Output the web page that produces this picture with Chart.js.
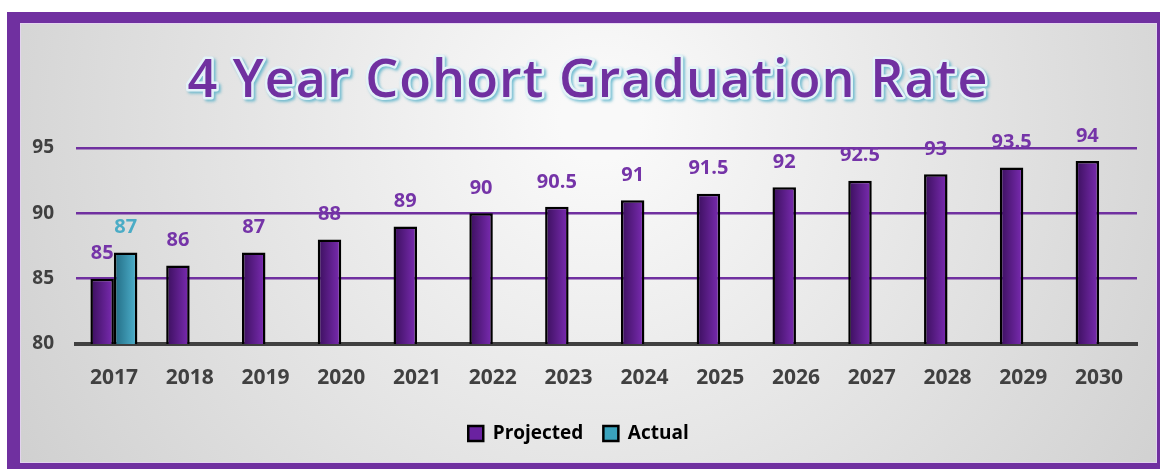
<!DOCTYPE html>
<html>
<head>
<meta charset="utf-8">
<script src="https://cdn.jsdelivr.net/npm/chart.js@4/dist/chart.umd.min.js"></script>
<style>
  html, body { margin: 0; padding: 0; background: #fff; }
  #wrap { width: 1160px; height: 469px; }
</style>
</head>
<body>
<div id="wrap"><canvas id="c" width="1160" height="469"></canvas></div>
<script>
const years = ['2017', '2018', '2019', '2020', '2021', '2022', '2023', '2024', '2025', '2026', '2027', '2028', '2029', '2030'];
const projected = [85, 86, 87, 88, 89, 90, 90.5, 91, 91.5, 92, 92.5, 93, 93.5, 94];
const actual = [87, null, null, null, null, null, null, null, null, null, null, null, null, null];
const yTicks = [80, 85, 90, 95];

const PURPLE = '#7030a0';
const TEAL = '#4bacc6';
const INK = '#404040';
const CAT_PCT = 0.62;

// horizontal shading inside each bar, dark on the left
function barFill(dark, light) {
  return (c) => {
    const chart = c.chart;
    const x = chart.scales.x;
    if (!x || !chart.chartArea) return light;
    const w = (x.width / years.length) * CAT_PCT / 2;
    const mid = x.getPixelForValue(c.dataIndex);
    const left = c.datasetIndex === 0 ? mid - w : mid;
    const g = chart.ctx.createLinearGradient(left, 0, left + w, 0);
    g.addColorStop(0, dark);
    g.addColorStop(1, light);
    return g;
  };
}

const frame = {
  id: 'frame',
  beforeDraw(chart) {
    const { ctx, width, height } = chart;
    ctx.save();
    ctx.fillStyle = '#ffffff';
    ctx.fillRect(0, 0, width, height);
    ctx.fillStyle = '#7030a0';
    ctx.fillRect(7, 12, width - 7, height - 12);
    const g = ctx.createRadialGradient(600, 120, 40, 600, 120, 720);
    g.addColorStop(0, '#f9f9f9');
    g.addColorStop(1, '#cdcdcd');
    ctx.fillStyle = g;
    ctx.fillRect(20, 23, 1137, 440);
    ctx.strokeStyle = 'rgba(230,210,245,0.8)';
    ctx.lineWidth = 1;
    ctx.strokeRect(20.5, 23.5, 1136, 439);
    ctx.restore();
  }
};

const heading = {
  id: 'heading',
  afterDraw(chart) {
    const { ctx } = chart;
    const text = '4 Year Cohort Graduation Rate';
    ctx.save();
    ctx.font = '600 52px "Open Sans"';
    const w = ctx.measureText(text).width;
    if (w < 800) ctx.letterSpacing = ((800 - w) / (text.length - 1)).toFixed(2) + 'px';
    ctx.textAlign = 'center';
    ctx.textBaseline = 'alphabetic';
    ctx.lineJoin = 'round';
    ctx.shadowColor = 'rgba(75,172,198,0.75)';
    ctx.shadowOffsetX = 2;
    ctx.shadowOffsetY = 2;
    ctx.shadowBlur = 3;
    ctx.strokeStyle = '#e4f2f8';
    ctx.lineWidth = 5;
    ctx.strokeText(text, 588, 97);
    ctx.shadowColor = 'transparent';
    ctx.fillStyle = '#7030a0';
    ctx.fillText(text, 588, 97);
    ctx.restore();
  }
};

const valueLabels = {
  id: 'valueLabels',
  afterDatasetsDraw(chart) {
    const { ctx } = chart;
    ctx.save();
    ctx.font = 'bold 20px "Open Sans"';
    ctx.textAlign = 'center';
    ctx.textBaseline = 'middle';
    chart.data.datasets.forEach((ds, i) => {
      const meta = chart.getDatasetMeta(i);
      ctx.fillStyle = i === 0 ? '#7534a8' : TEAL;
      meta.data.forEach((el, j) => {
        const v = ds.data[j];
        if (v == null) return;
        ctx.fillText(String(v), el.x, el.y - 25);
      });
    });
    ctx.restore();
  }
};

new Chart(document.getElementById('c'), {
  type: 'bar',
  data: {
    labels: years,
    datasets: [
      {
        label: 'Projected',
        data: projected,
        backgroundColor: barFill('#3a0f5c', '#7c2cb4'),
        borderColor: '#000000',
        borderWidth: 2.5,
        categoryPercentage: CAT_PCT,
        barPercentage: 1
      },
      {
        label: 'Actual',
        data: actual,
        backgroundColor: barFill('#216a82', '#4fb3cf'),
        borderColor: '#000000',
        borderWidth: 2.5,
        categoryPercentage: CAT_PCT,
        barPercentage: 1
      }
    ]
  },
  options: {
    responsive: false,
    animation: false,
    layout: { padding: { left: 20, right: 23, top: 148, bottom: 16 } },
    scales: {
      x: {
        grid: { display: false },
        border: { display: true, color: INK, width: 4 },
        ticks: { color: INK, font: { family: 'Open Sans', size: 21, weight: 'bold' }, padding: 13 },
        afterFit: (s) => { s.height = 60; }
      },
      y: {
        min: 80,
        max: 95,
        afterBuildTicks: (s) => { s.ticks = yTicks.map(v => ({ value: v })); },
        grid: {
          color: (c) => c.tick && c.tick.value === 80 ? 'rgba(0,0,0,0)' : PURPLE,
          lineWidth: 2.5,
          drawTicks: false
        },
        border: { display: false },
        ticks: { color: INK, font: { family: 'Open Sans', size: 19, weight: 'bold' }, padding: 22 },
        afterFit: (s) => { s.width = 56; }
      }
    },
    plugins: {
      title: { display: false },
      tooltip: { enabled: false },
      legend: {
        position: 'bottom',
        labels: {
          color: INK,
          font: { family: 'Open Sans', size: 19, weight: 'bold' },
          boxWidth: 15,
          boxHeight: 15,
          padding: 20,
          generateLabels: () => [
            { text: 'Projected', fillStyle: '#6a22a0', strokeStyle: '#000', lineWidth: 2.5, datasetIndex: 0 },
            { text: 'Actual', fillStyle: '#3aa3bd', strokeStyle: '#000', lineWidth: 2.5, datasetIndex: 1 }
          ]
        }
      }
    }
  },
  plugins: [frame, heading, valueLabels]
});
</script>
</body>
</html>
